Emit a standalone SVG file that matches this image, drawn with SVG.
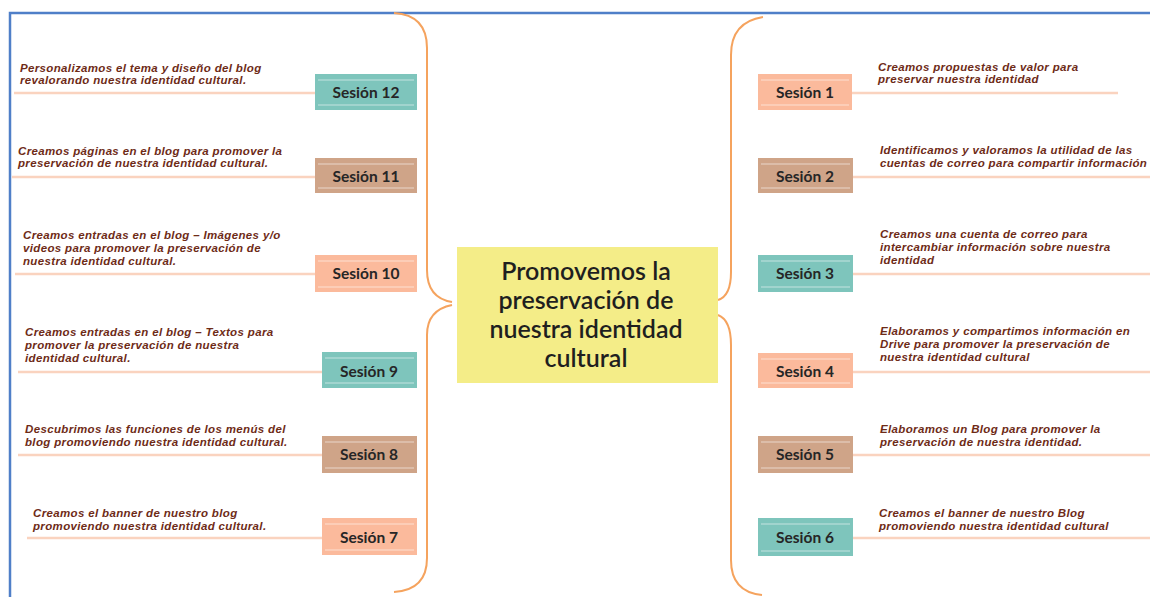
<svg xmlns="http://www.w3.org/2000/svg" width="1150" height="597" viewBox="0 0 1150 597">
<style>
.bg{fill:#ffffff}
.frame{stroke:#4F7FC8;stroke-width:2.5;fill:none}
.brace{stroke:#F5A35E;stroke-width:2;fill:none}
.link{stroke:#FAD3BF;stroke-width:2.5;fill:none}
.teal{fill:#7EC5BC}
.tan{fill:#CFA488}
.peach{fill:#FBBA9C}
.streak{stroke:#ffffff;stroke-width:1.2;opacity:0.55}
.lbl{font-family:Lato,"Liberation Sans",sans-serif;font-weight:700;font-size:15.5px;fill:#262626;text-anchor:middle}
.desc{font-family:"Liberation Sans",Arial,sans-serif;font-style:italic;font-weight:700;font-size:11.5px;letter-spacing:0.35px;fill:#6E2B17}
.center{fill:#F4ED88}
.ctext{font-family:Lato,"Liberation Sans",sans-serif;font-weight:600;font-size:25px;fill:#1f1f1f;text-anchor:middle}
</style>
<rect class="bg" x="0" y="0" width="1150" height="597"/>
<path class="frame" d="M10,597 L10,13 L1150,13"/>

<g id="connectors">
<path class="brace" d="M394,13 Q427,15 427,48 L427,270 Q427,298 452,302"/>
<path class="brace" d="M452,305 Q427,310 427,335 L427,558 Q427,590 394,592"/>
<path class="brace" d="M763,17 Q731,22 731,55 L731,272 Q731,296 718,300"/>
<path class="brace" d="M718,315 Q731,320 731,345 L731,560 Q731,592 762,595"/>
<line class="link" x1="14" y1="93" x2="316" y2="93"/>
<line class="link" x1="12" y1="177" x2="316" y2="177"/>
<line class="link" x1="15" y1="274" x2="316" y2="274"/>
<line class="link" x1="18" y1="372" x2="322" y2="372"/>
<line class="link" x1="18" y1="455" x2="322" y2="455"/>
<line class="link" x1="27" y1="538" x2="322" y2="538"/>
<line class="link" x1="852" y1="93" x2="1118" y2="93"/>
<line class="link" x1="852" y1="177" x2="1150" y2="177"/>
<line class="link" x1="852" y1="274" x2="1150" y2="274"/>
<line class="link" x1="852" y1="372" x2="1150" y2="372"/>
<line class="link" x1="852" y1="455" x2="1150" y2="455"/>
<line class="link" x1="852" y1="538" x2="1150" y2="538"/>
</g>

<g id="center">
<rect class="center" x="457" y="247" width="261" height="136"/>
<text class="ctext" x="586" y="280">Promovemos la</text>
<text class="ctext" x="586" y="309">preservación de</text>
<text class="ctext" x="586" y="338">nuestra identidad</text>
<text class="ctext" x="586" y="367">cultural</text>
</g>

<g id="s12">
<rect class="teal" x="315" y="74" width="102" height="36"/>
<line class="streak" x1="318" y1="80" x2="414" y2="80"/><line class="streak" x1="318" y1="105" x2="414" y2="105"/>
<text class="lbl" x="366" y="98">Sesión 12</text>
<text class="desc" x="20" y="72">Personalizamos el  tema y diseño del blog</text>
<text class="desc" x="20" y="84">revalorando nuestra identidad cultural.</text>
</g>

<g id="s11">
<rect class="tan" x="315" y="158" width="102" height="35"/>
<line class="streak" x1="318" y1="164" x2="414" y2="164"/><line class="streak" x1="318" y1="188" x2="414" y2="188"/>
<text class="lbl" x="366" y="182">Sesión 11</text>
<text class="desc" x="18" y="155">Creamos páginas en el blog para promover la</text>
<text class="desc" x="18" y="167">preservación de nuestra identidad cultural.</text>
</g>

<g id="s10">
<rect class="peach" x="315" y="255" width="102" height="37"/>
<line class="streak" x1="318" y1="261" x2="414" y2="261"/><line class="streak" x1="318" y1="287" x2="414" y2="287"/>
<text class="lbl" x="366" y="279">Sesión 10</text>
<text class="desc" x="23" y="239">Creamos entradas en el blog – Imágenes y/o</text>
<text class="desc" x="23" y="252">videos para promover la preservación de</text>
<text class="desc" x="23" y="265">nuestra identidad cultural.</text>
</g>

<g id="s9">
<rect class="teal" x="322" y="352" width="95" height="36"/>
<line class="streak" x1="325" y1="358" x2="414" y2="358"/><line class="streak" x1="325" y1="383" x2="414" y2="383"/>
<text class="lbl" x="369" y="377">Sesión 9</text>
<text class="desc" x="25" y="336">Creamos entradas en el blog – Textos para</text>
<text class="desc" x="25" y="349">promover la preservación de nuestra</text>
<text class="desc" x="25" y="362">identidad cultural.</text>
</g>

<g id="s8">
<rect class="tan" x="322" y="436" width="95" height="37"/>
<line class="streak" x1="325" y1="442" x2="414" y2="442"/><line class="streak" x1="325" y1="468" x2="414" y2="468"/>
<text class="lbl" x="369" y="460">Sesión 8</text>
<text class="desc" x="25" y="433">Descubrimos las funciones de los menús del</text>
<text class="desc" x="25" y="446">blog promoviendo nuestra identidad cultural.</text>
</g>

<g id="s7">
<rect class="peach" x="322" y="518" width="95" height="37"/>
<line class="streak" x1="325" y1="524" x2="414" y2="524"/><line class="streak" x1="325" y1="550" x2="414" y2="550"/>
<text class="lbl" x="369" y="543">Sesión 7</text>
<text class="desc" x="33" y="517">Creamos el banner de nuestro blog</text>
<text class="desc" x="33" y="530">promoviendo nuestra identidad cultural.</text>
</g>

<g id="s1">
<rect class="peach" x="758" y="74" width="94" height="36"/>
<line class="streak" x1="761" y1="80" x2="849" y2="80"/><line class="streak" x1="761" y1="105" x2="849" y2="105"/>
<text class="lbl" x="805" y="98">Sesión 1</text>
<text class="desc" x="878" y="71">Creamos propuestas de valor para</text>
<text class="desc" x="878" y="83">preservar nuestra identidad</text>
</g>

<g id="s2">
<rect class="tan" x="758" y="158" width="95" height="35"/>
<line class="streak" x1="761" y1="164" x2="850" y2="164"/><line class="streak" x1="761" y1="188" x2="850" y2="188"/>
<text class="lbl" x="805" y="182">Sesión 2</text>
<text class="desc" x="880" y="154">Identificamos y valoramos la utilidad de las</text>
<text class="desc" x="880" y="167">cuentas de correo para compartir información</text>
</g>

<g id="s3">
<rect class="teal" x="758" y="255" width="95" height="37"/>
<line class="streak" x1="761" y1="261" x2="850" y2="261"/><line class="streak" x1="761" y1="287" x2="850" y2="287"/>
<text class="lbl" x="805" y="279">Sesión 3</text>
<text class="desc" x="880" y="238">Creamos una cuenta de correo para</text>
<text class="desc" x="880" y="251">intercambiar información sobre nuestra</text>
<text class="desc" x="880" y="264">identidad</text>
</g>

<g id="s4">
<rect class="peach" x="758" y="353" width="95" height="35"/>
<line class="streak" x1="761" y1="359" x2="850" y2="359"/><line class="streak" x1="761" y1="383" x2="850" y2="383"/>
<text class="lbl" x="805" y="377">Sesión 4</text>
<text class="desc" x="880" y="335">Elaboramos y compartimos información en</text>
<text class="desc" x="880" y="348">Drive para promover la preservación de</text>
<text class="desc" x="880" y="361">nuestra identidad cultural</text>
</g>

<g id="s5">
<rect class="tan" x="758" y="436" width="95" height="37"/>
<line class="streak" x1="761" y1="442" x2="850" y2="442"/><line class="streak" x1="761" y1="468" x2="850" y2="468"/>
<text class="lbl" x="805" y="460">Sesión 5</text>
<text class="desc" x="880" y="433">Elaboramos un Blog para promover la</text>
<text class="desc" x="880" y="446">preservación de nuestra identidad.</text>
</g>

<g id="s6">
<rect class="teal" x="758" y="518" width="95" height="38"/>
<line class="streak" x1="761" y1="524" x2="850" y2="524"/><line class="streak" x1="761" y1="551" x2="850" y2="551"/>
<text class="lbl" x="805" y="543">Sesión 6</text>
<text class="desc" x="879" y="517">Creamos el banner de nuestro Blog</text>
<text class="desc" x="879" y="530">promoviendo nuestra identidad cultural</text>
</g>
</svg>
